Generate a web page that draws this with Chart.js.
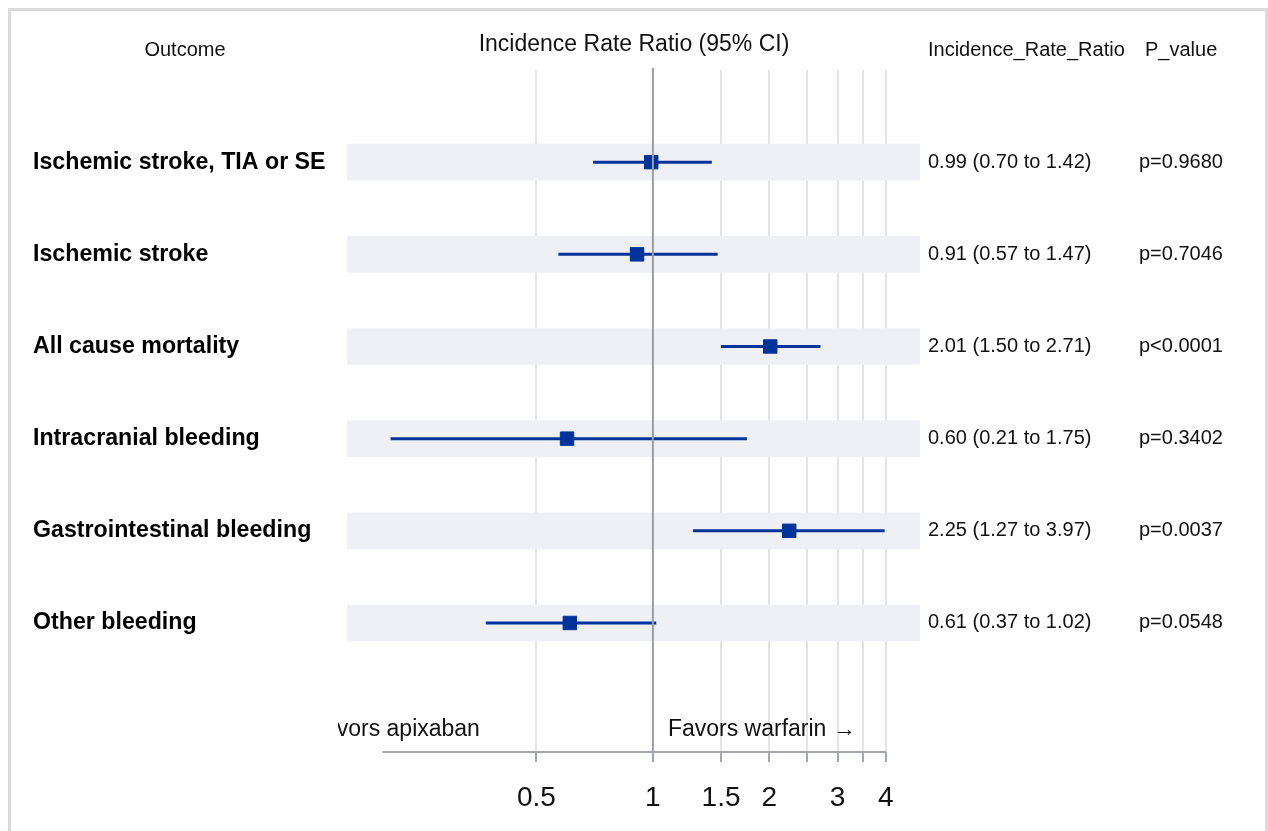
<!DOCTYPE html>
<html>
<head>
<meta charset="utf-8">
<script src="https://cdn.jsdelivr.net/npm/chart.js@4.4.1/dist/chart.umd.min.js"></script>
<style>
  html, body { margin: 0; padding: 0; background: #fff; }
  #wrap { position: relative; width: 1268px; height: 831px; overflow: hidden; }
  #frame { position: absolute; left: 8px; top: 8px; width: 1260px; height: 840px; box-sizing: border-box;
           border: 3px solid #dadada; border-bottom: none; pointer-events: none; }
  canvas { position: absolute; left: 0; top: 0; }
</style>
</head>
<body>
<div id="wrap">
  <canvas id="c" width="1268" height="831" style="width:1268px;height:831px"></canvas>
  <div id="frame"></div>
</div>
<script>
// ---- data ----
const outcomes = ["Ischemic stroke, TIA or SE", "Ischemic stroke", "All cause mortality",
                  "Intracranial bleeding", "Gastrointestinal bleeding", "Other bleeding"];
const irr   = [0.99, 0.91, 2.01, 0.60, 2.25, 0.61];
const lower = [0.70, 0.57, 1.50, 0.21, 1.27, 0.37];
const upper = [1.42, 1.47, 2.71, 1.75, 3.97, 1.02];
const pValues = ["p=0.9680", "p=0.7046", "p<0.0001", "p=0.3402", "p=0.0037", "p=0.0548"];
const tickValues = [0.5, 1, 1.5, 2, 2.5, 3, 3.5, 4];
const tickLabels = ["0.5", "1", "1.5", "2", "", "3", "", "4"];
const headers = { outcome: "Outcome", plot: "Incidence Rate Ratio (95% CI)", irr: "Incidence_Rate_Ratio", p: "P_value" };
const favorLeft = "\u2190 Favors apixaban";
const favorRight = "Favors warfarin \u2192";

const X_MIN = 0.162, X_MAX = 4.9, AXIS_FROM = 0.2, AXIS_TO = 4;
const rows = outcomes.map((_, i) => i + 1);

const BLUE = '#003399';
const FONT = '"Liberation Sans", Arial, sans-serif';

const datasets = [];
datasets.push({
  type: 'bar', indexAxis: 'y', order: 3,
  data: rows.map(r => ({ x: [X_MIN, X_MAX], y: r })),
  backgroundColor: '#eff0f5', borderWidth: 0, barThickness: 36
});
rows.forEach((r, i) => {
  datasets.push({
    type: 'line', order: 2,
    data: [{ x: lower[i], y: r }, { x: upper[i], y: r }],
    borderColor: BLUE, borderWidth: 3, pointRadius: 0, fill: false
  });
});
datasets.push({
  type: 'scatter', order: 1,
  data: rows.map((r, i) => ({ x: irr[i], y: r })),
  pointStyle: 'rect', pointRadius: 9.5, backgroundColor: BLUE, borderColor: BLUE, borderWidth: 1
});

const decor = {
  id: 'decor',
  afterDatasetsDraw(chart) {
    const ctx = chart.ctx, xs = chart.scales.x, ys = chart.scales.y, ca = chart.chartArea;
    ctx.save();
    // reference line at 1
    const p1 = xs.getPixelForValue(1);
    ctx.strokeStyle = '#9a9ea3'; ctx.lineWidth = 2;
    ctx.beginPath(); ctx.moveTo(p1, ca.top - 2); ctx.lineTo(p1, ca.bottom); ctx.stroke();
    // axis line
    ctx.strokeStyle = '#a2a6ab'; ctx.lineWidth = 2;
    ctx.beginPath(); ctx.moveTo(xs.getPixelForValue(AXIS_FROM), ca.bottom);
    ctx.lineTo(xs.getPixelForValue(AXIS_TO), ca.bottom); ctx.stroke();

    // headers
    ctx.fillStyle = '#111';
    ctx.textBaseline = 'middle';
    ctx.font = '20px ' + FONT;
    ctx.textAlign = 'center'; ctx.fillText(headers.outcome, 185, 50);
    ctx.font = '23px ' + FONT;
    ctx.fillText(headers.plot, 634, 45);
    ctx.font = '20px ' + FONT;
    ctx.textAlign = 'left';
    ctx.fillText(headers.irr, 928, 50);
    ctx.fillText(headers.p, 1145, 50);

    // row texts
    rows.forEach((r, i) => {
      const y = ys.getPixelForValue(r);
      ctx.fillStyle = '#000';
      ctx.font = 'bold 23.2px ' + FONT;
      ctx.textAlign = 'left';
      ctx.fillText(outcomes[i], 33, y);
      ctx.fillStyle = '#111';
      ctx.font = '20px ' + FONT;
      ctx.fillText(irr[i].toFixed(2) + ' (' + lower[i].toFixed(2) + ' to ' + upper[i].toFixed(2) + ')', 928, y);
      ctx.fillText(pValues[i], 1139, y);
    });

    // favors labels
    const fy = ys.getPixelForValue(7.16);
    ctx.font = '23px ' + FONT;
    ctx.fillStyle = '#111';
    ctx.textAlign = 'left';
    ctx.fillText(favorRight, p1 + 15, fy);
    ctx.save();
    ctx.beginPath(); ctx.rect(338, 0, 1000, 831); ctx.clip();
    ctx.textAlign = 'right';
    ctx.fillText(favorLeft, p1 - 173, fy);
    ctx.restore();
    ctx.restore();
  }
};

new Chart(document.getElementById('c'), {
  type: 'scatter',
  data: { datasets },
  options: {
    responsive: false, devicePixelRatio: 1, animation: false,
    layout: { padding: { left: 347, right: 348, top: 70, bottom: 0 } },
    plugins: { legend: { display: false }, tooltip: { enabled: false } },
    scales: {
      x: {
        type: 'logarithmic', min: X_MIN, max: X_MAX, beginAtZero: false, offset: false,
        afterBuildTicks: s => { s.ticks = tickValues.map(v => ({ value: v })); },
        afterFit: s => { s.height = 79; },
        border: { display: false },
        grid: { color: '#e4e4e4', lineWidth: 2, tickColor: '#a2a6ab', tickWidth: 2, tickLength: 10, offset: false },
        ticks: {
          autoSkip: false, maxRotation: 0, minRotation: 0, padding: 19,
          color: '#111', font: { family: FONT, size: 28 },
          callback: (v) => { const k = tickValues.indexOf(v); return k >= 0 ? tickLabels[k] : ''; }
        }
      },
      y: {
        type: 'linear', min: 0.0, max: 7.4, reverse: true, display: false, offset: false,
        grid: { display: false }
      }
    }
  },
  plugins: [decor]
});
</script>
</body>
</html>
